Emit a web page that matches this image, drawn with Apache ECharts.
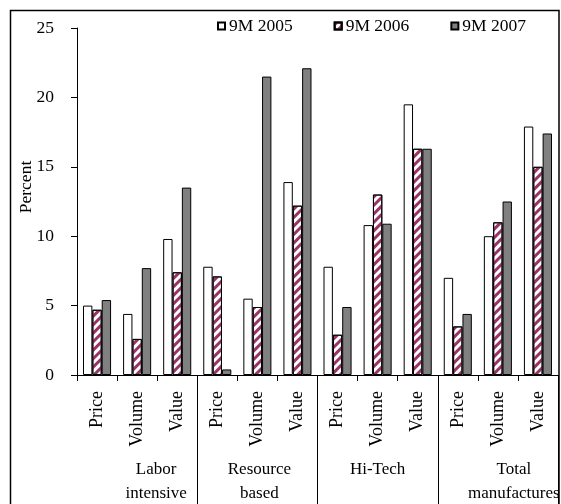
<!DOCTYPE html>
<html>
<head>
<meta charset="utf-8">
<script src="https://cdn.jsdelivr.net/npm/echarts@6/dist/echarts.min.js"></script>
<style>
  html, body { margin: 0; padding: 0; background: #fff; }
  #chart { width: 561px; height: 504px; }
</style>
</head>
<body>
<div id="chart"></div>
<script>
// Measures shown under each sector
const measures = ['Price', 'Volume', 'Value',
                  'Price', 'Volume', 'Value',
                  'Price', 'Volume', 'Value',
                  'Price', 'Volume', 'Value'];
// Sector labels on the outer level of the category axis
const sectors = ['Labor\nintensive', 'Resource\nbased', 'Hi-Tech', 'Total\nmanufactures'];
// Growth in percent, first nine months of each year
const growth2005 = [5.0, 4.4, 9.8, 7.8, 5.5, 13.9, 7.8, 10.8, 19.5, 7.0, 10.0, 17.9];
const growth2006 = [4.7, 2.6, 7.4, 7.1, 4.9, 12.2, 2.9, 13.0, 16.3, 3.5, 11.0, 15.0];
const growth2007 = [5.4, 7.7, 13.5, 0.4, 21.5, 22.1, 4.9, 10.9, 16.3, 4.4, 12.5, 17.4];
const seriesNames = ['9M 2005', '9M 2006', '9M 2007'];
const yTicks = { min: 0, max: 25, interval: 5 };

const serif = "'Liberation Serif', 'Times New Roman', serif";
const ink = '#000';

// Excel-style placement of the sector captions (horizontal nudge in px)
const sectorNudge = [19, 2, 0, 16];

const chart = echarts.init(document.getElementById('chart'), null, { renderer: 'canvas' });

const barBase = {
  type: 'bar',
  xAxisIndex: 0,
  barGap: '0%',
  barCategoryGap: '30%',
  emphasis: { disabled: true }
};

chart.setOption({
  animation: false,
  backgroundColor: '#fff',
  textStyle: { fontFamily: serif, color: ink },
  grid: {
    left: 77, right: 3, top: 28, bottom: 129,
    containLabel: false,
    outerBoundsMode: 'none'
  },
  legend: {
    left: 217,
    top: 17,
    padding: 0,
    itemWidth: 7,
    itemHeight: 7,
    itemGap: 41,
    icon: 'rect',
    textStyle: { fontFamily: serif, fontSize: 17.5, color: ink, padding: [0, 0, 0, -1] },
    data: seriesNames
  },
  xAxis: [
    {
      type: 'category',
      data: measures,
      position: 'bottom',
      axisLine: { lineStyle: { color: ink, width: 1 } },
      axisTick: { show: true, length: 6, lineStyle: { color: ink } },
      axisLabel: {
        interval: 0,
        rotate: 90,
        margin: 16,
        fontFamily: serif,
        fontSize: 18,
        color: ink
      },
      splitLine: { show: false }
    },
    {
      type: 'category',
      data: sectors.map((s, i) => ({
        value: s,
        textStyle: { padding: [0, 0, 0, sectorNudge[i] * 2] }
      })),
      position: 'bottom',
      axisLine: { show: false },
      axisTick: {
        show: true,
        length: 129,
        interval: (idx) => idx > 0,
        lineStyle: { color: ink, width: 1 }
      },
      axisLabel: {
        interval: 0,
        margin: 83,
        fontFamily: serif,
        fontSize: 17,
        lineHeight: 24,
        color: ink
      },
      splitLine: { show: false }
    }
  ],
  yAxis: {
    type: 'value',
    min: yTicks.min,
    max: yTicks.max,
    interval: yTicks.interval,
    name: 'Percent',
    nameLocation: 'middle',
    nameRotate: 90,
    nameGap: 42,
    nameMoveOverlap: false,
    nameTextStyle: { fontFamily: serif, fontSize: 17.5, color: ink, padding: [0, 0, 0, 29] },
    axisLine: { show: true, lineStyle: { color: ink, width: 1 } },
    axisTick: { show: true, length: 6, lineStyle: { color: ink } },
    axisLabel: { margin: 23, fontFamily: serif, fontSize: 17.5, color: ink },
    splitLine: { show: false }
  },
  series: [
    Object.assign({}, barBase, {
      name: seriesNames[0],
      data: growth2005,
      itemStyle: { color: '#ffffff', borderColor: ink, borderWidth: 1 }
    }),
    Object.assign({}, barBase, {
      name: seriesNames[1],
      data: growth2006,
      itemStyle: {
        color: '#ffffff',
        borderColor: ink,
        borderWidth: 1,
        decal: {
          symbol: 'rect',
          symbolSize: 1,
          color: '#993366',
          backgroundColor: 'rgba(0,0,0,0)',
          dashArrayX: [1, 0],
          dashArrayY: [3, 3],
          rotation: -Math.PI / 4
        }
      }
    }),
    Object.assign({}, barBase, {
      name: seriesNames[2],
      data: growth2007,
      itemStyle: { color: '#808080', borderColor: ink, borderWidth: 1 }
    })
  ],
  graphic: [
    {
      type: 'rect',
      silent: true,
      z: 100,
      shape: { x: 10.5, y: 10.5, width: 548.5, height: 520 },
      style: { fill: null, stroke: ink, lineWidth: 1.5 }
    }
  ]
});
</script>
</body>
</html>
